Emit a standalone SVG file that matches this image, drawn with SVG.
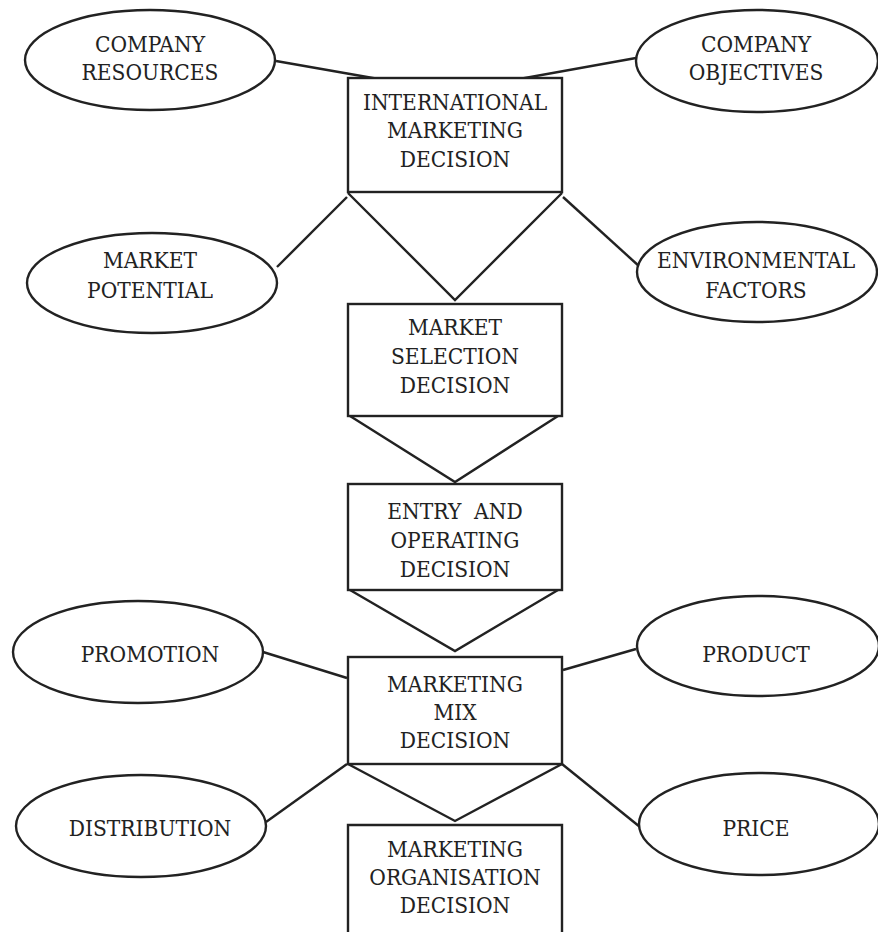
<svg xmlns="http://www.w3.org/2000/svg" width="878" height="932" viewBox="0 0 878 932">
  <style>
    .shape { fill: #fff; stroke: #222; stroke-width: 2.4; }
    .link { fill: none; stroke: #222; stroke-width: 2.4; stroke-linejoin: miter; }
    text { font-family: "DejaVu Serif Condensed", "DejaVu Serif", "Liberation Serif", serif; font-stretch: condensed; font-size: 22.5px; fill: #222; text-anchor: middle; }
  </style>
  <rect width="878" height="932" fill="#fff"/>

  <!-- connectors: chevrons between decision boxes and lines to the factor ellipses -->
  <g id="connectors">
    <polyline class="link" points="348,193 455,300 562,193"/>
    <polyline class="link" points="350,416 455,482 558,416"/>
    <polyline class="link" points="350,590 455,651 558,590"/>
    <polyline class="link" points="348,764 455,821 562,764"/>
    <line class="link" x1="276" y1="61" x2="390" y2="81"/>
    <line class="link" x1="636" y1="58" x2="508" y2="81"/>
    <line class="link" x1="347" y1="197" x2="277" y2="267"/>
    <line class="link" x1="563" y1="197" x2="640" y2="267"/>
    <line class="link" x1="263" y1="652" x2="347" y2="678"/>
    <line class="link" x1="563" y1="670" x2="636" y2="649"/>
    <line class="link" x1="266" y1="822" x2="347" y2="764"/>
    <line class="link" x1="562" y1="764" x2="640" y2="827"/>
  </g>

  <!-- decision boxes -->
  <g id="international-marketing-decision">
    <rect class="shape" x="348" y="78" width="214" height="114"/>
    <text x="455" y="110">INTERNATIONAL</text>
    <text x="455" y="138">MARKETING</text>
    <text x="455" y="167">DECISION</text>
  </g>
  <g id="market-selection-decision">
    <rect class="shape" x="348" y="304" width="214" height="112"/>
    <text x="455" y="335">MARKET</text>
    <text x="455" y="364">SELECTION</text>
    <text x="455" y="393">DECISION</text>
  </g>
  <g id="entry-operating-decision">
    <rect class="shape" x="348" y="484" width="214" height="106"/>
    <text x="455" y="519" xml:space="preserve">ENTRY  AND</text>
    <text x="455" y="548">OPERATING</text>
    <text x="455" y="577">DECISION</text>
  </g>
  <g id="marketing-mix-decision">
    <rect class="shape" x="348" y="657" width="214" height="107"/>
    <text x="455" y="692">MARKETING</text>
    <text x="455" y="720">MIX</text>
    <text x="455" y="748">DECISION</text>
  </g>
  <g id="marketing-organisation-decision">
    <path class="shape" d="M348,934 V825 H562 V934"/>
    <text x="455" y="857">MARKETING</text>
    <text x="455" y="885">ORGANISATION</text>
    <text x="455" y="913">DECISION</text>
  </g>

  <!-- factor ellipses -->
  <g id="company-resources">
    <ellipse class="shape" cx="150" cy="60" rx="125" ry="50"/>
    <text x="150" y="52">COMPANY</text>
    <text x="150" y="80">RESOURCES</text>
  </g>
  <g id="company-objectives">
    <ellipse class="shape" cx="757" cy="61" rx="121" ry="51"/>
    <text x="756" y="52">COMPANY</text>
    <text x="756" y="80">OBJECTIVES</text>
  </g>
  <g id="market-potential">
    <ellipse class="shape" cx="152" cy="283" rx="125" ry="50"/>
    <text x="150" y="268">MARKET</text>
    <text x="150" y="298">POTENTIAL</text>
  </g>
  <g id="environmental-factors">
    <ellipse class="shape" cx="757" cy="272" rx="120" ry="50"/>
    <text x="756" y="268">ENVIRONMENTAL</text>
    <text x="756" y="298">FACTORS</text>
  </g>
  <g id="promotion">
    <ellipse class="shape" cx="138" cy="652" rx="125" ry="51"/>
    <text x="150" y="662">PROMOTION</text>
  </g>
  <g id="product">
    <ellipse class="shape" cx="758" cy="646" rx="121" ry="50"/>
    <text x="756" y="662">PRODUCT</text>
  </g>
  <g id="distribution">
    <ellipse class="shape" cx="141" cy="826" rx="125" ry="51"/>
    <text x="150" y="836">DISTRIBUTION</text>
  </g>
  <g id="price">
    <ellipse class="shape" cx="759" cy="824" rx="120" ry="51"/>
    <text x="756" y="836">PRICE</text>
  </g>
</svg>
